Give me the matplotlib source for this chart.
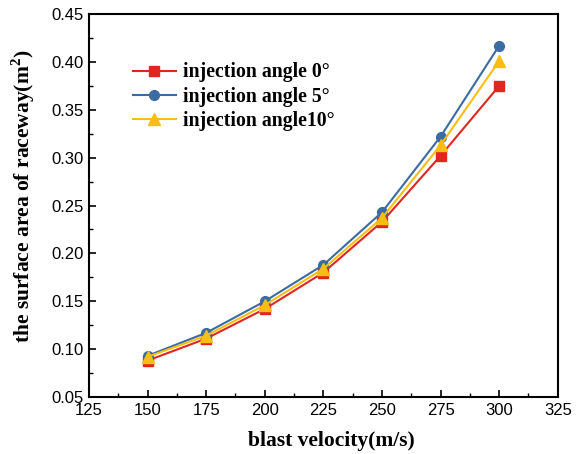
import matplotlib.pyplot as plt
from matplotlib.ticker import MultipleLocator

velocity = [150, 175, 200, 225, 250, 275, 300]
angle0 = [0.088, 0.111, 0.142, 0.180, 0.233, 0.302, 0.375]
angle5 = [0.093, 0.117, 0.150, 0.188, 0.243, 0.322, 0.417]
angle10 = [0.092, 0.114, 0.146, 0.184, 0.237, 0.313, 0.401]

plt.rcParams['mathtext.fontset'] = 'custom'
plt.rcParams['mathtext.bf'] = 'Liberation Serif:bold'
plt.rcParams['mathtext.rm'] = 'Liberation Serif'

fig = plt.figure(figsize=(5.78, 4.54), dpi=100)
ax = fig.add_axes([0.154, 0.1256, 0.811, 0.8434])

ax.plot(velocity, angle0, color='#E0271F', marker='s', markersize=7, lw=1.5, label='injection angle 0°')
ax.plot(velocity, angle5, color='#3A6BA3', marker='o', markersize=7, lw=1.5, label='injection angle 5°')
ax.plot(velocity, angle10, color='#F8BE12', marker='^', markersize=8, lw=1.5, label='injection angle10°')

ax.set_xlim(125, 325)
ax.set_ylim(0.05, 0.45)
ax.xaxis.set_major_locator(MultipleLocator(25))
ax.xaxis.set_minor_locator(MultipleLocator(12.5))
ax.yaxis.set_major_locator(MultipleLocator(0.05))
ax.yaxis.set_minor_locator(MultipleLocator(0.025))
ax.yaxis.set_major_formatter(plt.FormatStrFormatter('%.2f'))
ax.tick_params(which='both', direction='in', top=False, right=False)
ax.tick_params(which='major', length=5, width=1.2, labelsize=12, pad=4)
ax.tick_params(which='minor', length=3, width=1)
for lbl in ax.get_xticklabels() + ax.get_yticklabels():
    lbl.set_family('Liberation Sans')
for s in ax.spines.values():
    s.set_linewidth(1.5)

ax.set_xlabel('blast velocity(m/s)', family='Liberation Serif', weight='bold', fontsize=15.5, labelpad=10)
ax.set_ylabel('the surface area of raceway(m$^\\mathbf{2}$)', family='Liberation Serif', weight='bold', fontsize=15.5, labelpad=10)
ax.xaxis.label.set_x(0.518)
ax.yaxis.label.set_y(0.525)

ax.legend(loc='upper left', bbox_to_anchor=(0.055, 0.92), frameon=False,
          prop={'family': 'Liberation Serif', 'weight': 'bold', 'size': 14.2},
          handlelength=2.2, labelspacing=0.22, handletextpad=0.35)

fig.savefig('out.png')
